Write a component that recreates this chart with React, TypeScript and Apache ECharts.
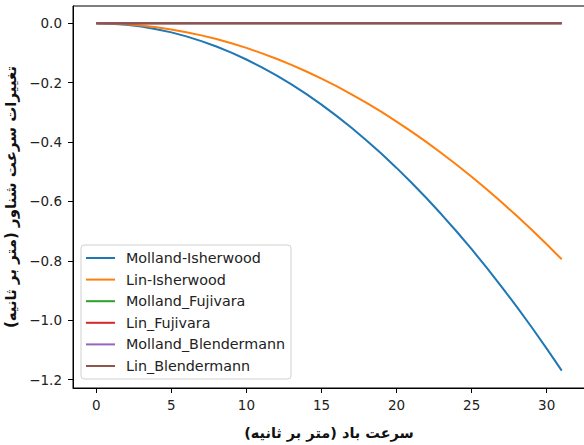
import React, { useEffect, useRef } from "react";
import * as echarts from "echarts";

const windSpeed = [0, 1, 2, 3, 4, 5, 6, 7, 8, 9, 10, 11, 12, 13, 14, 15, 16, 17, 18, 19, 20, 21, 22, 23, 24, 25, 26, 27, 28, 29, 30, 31];
const mollandIsherwood = [0, -0.0012, -0.0049, -0.011, -0.0195, -0.0304, -0.0438, -0.0597, -0.0779, -0.0986, -0.1218, -0.1473, -0.1753, -0.2058, -0.2386, -0.2739, -0.3117, -0.3519, -0.3945, -0.4395, -0.487, -0.5369, -0.5893, -0.6441, -0.7013, -0.7609, -0.823, -0.8876, -0.9545, -1.0239, -1.0958, -1.17];
const linIsherwood = [0, -0.0008, -0.0033, -0.0074, -0.0132, -0.0207, -0.0298, -0.0405, -0.0529, -0.067, -0.0827, -0.1001, -0.1191, -0.1398, -0.1621, -0.1861, -0.2117, -0.239, -0.268, -0.2985, -0.3308, -0.3647, -0.4003, -0.4375, -0.4763, -0.5169, -0.5591, -0.6029, -0.6484, -0.6955, -0.7443, -0.795];
const mollandFujivara = [0, 0, 0, 0, 0, 0, 0, 0, 0, 0, 0, 0, 0, 0, 0, 0, 0, 0, 0, 0, 0, 0, 0, 0, 0, 0, 0, 0, 0, 0, 0, 0];
const linFujivara = [0, 0, 0, 0, 0, 0, 0, 0, 0, 0, 0, 0, 0, 0, 0, 0, 0, 0, 0, 0, 0, 0, 0, 0, 0, 0, 0, 0, 0, 0, 0, 0];
const mollandBlendermann = [0, 0, 0, 0, 0, 0, 0, 0, 0, 0, 0, 0, 0, 0, 0, 0, 0, 0, 0, 0, 0, 0, 0, 0, 0, 0, 0, 0, 0, 0, 0, 0];
const linBlendermann = [0, 0, 0, 0, 0, 0, 0, 0, 0, 0, 0, 0, 0, 0, 0, 0, 0, 0, 0, 0, 0, 0, 0, 0, 0, 0, 0, 0, 0, 0, 0, 0];

const seriesNames = ["Molland-Isherwood", "Lin-Isherwood", "Molland_Fujivara", "Lin_Fujivara", "Molland_Blendermann", "Lin_Blendermann"];
const seriesValues = [mollandIsherwood, linIsherwood, mollandFujivara, linFujivara, mollandBlendermann, linBlendermann];
const colors = ["#1f77b4", "#ff7f0e", "#2ca02c", "#d62728", "#9467bd", "#8c564b"];

const xTicks = [0, 5, 10, 15, 20, 25, 30];
const yTicks = [-1.2, -1.0, -0.8, -0.6, -0.4, -0.2, 0.0];

const xLabel = "\u200Fسرعت باد (متر بر ثانیه)\u200F";
const yLabel = "\u200Fتغییرات سرعت شناور (متر بر ثانیه)\u200F";

export default function App() {
  const ref = useRef<HTMLDivElement>(null);
  useEffect(() => {
    document.body.style.margin = "0";
    const chart = echarts.init(ref.current!, null, { renderer: "svg" });
    const font = "DejaVu Sans";
    chart.setOption({
      animation: false,
      backgroundColor: "#ffffff",
      color: colors,
      grid: {
        left: 73,
        top: 6,
        width: 512,
        height: 382,
        show: true,
        borderColor: "#000",
        borderWidth: 1,
        containLabel: false,
        outerBoundsMode: "none",
      },
      legend: {
        orient: "vertical",
        left: 81,
        top: 245,
        icon: "rect",
        itemWidth: 29,
        itemHeight: 2,
        itemGap: 7.6,
        padding: [6, 6, 6, 5],
        borderColor: "#d0d0d0",
        borderWidth: 1,
        borderRadius: 3,
        backgroundColor: "rgba(255,255,255,0.8)",
        textStyle: { fontFamily: font, fontSize: 14.3, color: "#222", padding: [0, 0, 0, 6] },
        data: seriesNames,
      },
      xAxis: {
        type: "value",
        min: -1.55,
        max: 32.55,
        name: xLabel,
        nameLocation: "middle",
        nameGap: 37,
        nameTextStyle: { fontFamily: font, fontSize: 14.5, fontWeight: "bold", color: "#111" },
        axisLine: { show: true, onZero: false, lineStyle: { color: "#000", width: 1 } },
        axisTick: { show: true, length: 5, lineStyle: { color: "#000" }, customValues: xTicks },
        axisLabel: { fontFamily: font, fontSize: 13.5, color: "#222", margin: 10, customValues: xTicks, formatter: (v: number) => String(v) },
        splitLine: { show: false },
      },
      yAxis: {
        type: "value",
        min: -1.2285,
        max: 0.0585,
        name: yLabel,
        nameLocation: "middle",
        nameRotate: 90,
        nameGap: 47,
        nameTextStyle: { fontFamily: font, fontSize: 15, fontWeight: "bold", color: "#111" },
        axisLine: { show: true, onZero: false, lineStyle: { color: "#000", width: 1 } },
        axisTick: { show: true, length: 5, lineStyle: { color: "#000" }, customValues: yTicks },
        axisLabel: {
          fontFamily: font,
          fontSize: 13.5,
          color: "#222",
          margin: 11,
          customValues: yTicks,
          formatter: (v: number) => (v < 0 ? "\u2212" + Math.abs(v).toFixed(1) : v.toFixed(1)),
        },
        splitLine: { show: false },
      },
      series: seriesNames.map((name, i) => ({
        name,
        type: "line",
        showSymbol: false,
        symbol: "none",
        lineStyle: { width: 2, color: colors[i] },
        itemStyle: { color: colors[i] },
        data: windSpeed.map((x, j) => [x, seriesValues[i][j]]),
      })),
    });
    return () => chart.dispose();
  }, []);
  return <div ref={ref} style={{ width: 584, height: 445 }} />;
}
